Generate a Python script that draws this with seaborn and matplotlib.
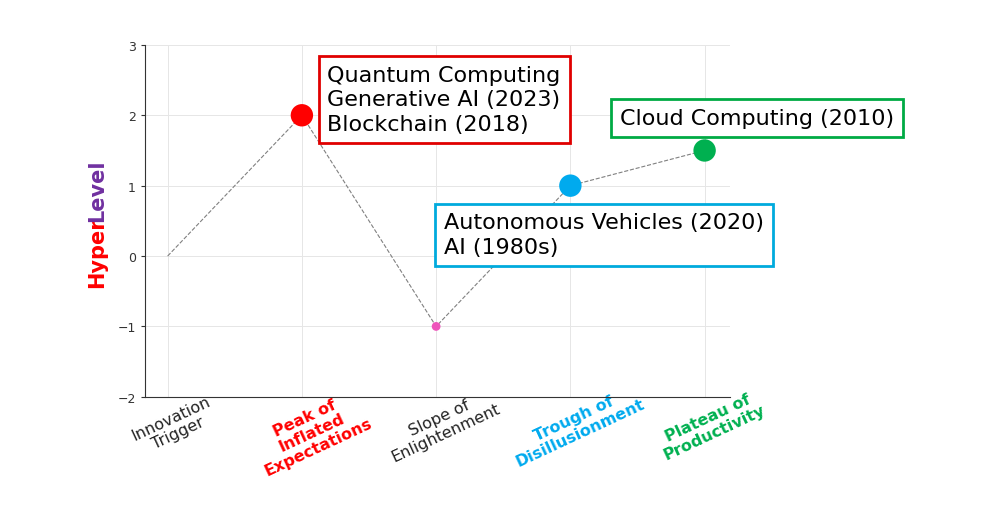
import matplotlib
matplotlib.use("Agg")
import matplotlib.pyplot as plt
import pandas as pd
import seaborn as sns

stages = ["Innovation\nTrigger", "Peak of\nInflated\nExpectations", "Slope of\nEnlightenment",
          "Trough of\nDisillusionment", "Plateau of\nProductivity"]
hype = [0, 2, -1, 1, 1.5]
marker_colors = [None, "#ff0000", "#ee55bb", "#00aaee", "#00b050"]
marker_sizes = [0, 260, 40, 260, 260]
label_colors = ["#222222", "#ff0000", "#222222", "#00aaee", "#00b050"]
label_bold = [False, True, False, True, True]

notes = [
    ("Quantum Computing\nGenerative AI (2023)\nBlockchain (2018)", 1.19, 2.72, "#e00000"),
    ("Autonomous Vehicles (2020)\nAI (1980s)", 2.06, 0.62, "#00aadd"),
    ("Cloud Computing (2010)", 3.37, 2.10, "#00aa44"),
]

plt.rcParams["font.family"] = "Noto Sans CJK KR"
df = pd.DataFrame({"x": range(len(hype)), "y": hype})

fig = plt.figure(figsize=(9.92, 5.1), dpi=100)
ax = fig.add_axes([0.146, 0.22, 0.59, 0.69])

sns.lineplot(data=df, x="x", y="y", ax=ax, color="gray", linestyle="--", linewidth=0.8)
for i in range(1, len(hype)):
    sns.scatterplot(x=[i], y=[hype[i]], ax=ax, color=marker_colors[i], s=marker_sizes[i],
                    edgecolor="none", zorder=5)

for txt, x, y, c in notes:
    ax.text(x, y, txt, fontsize=16, va="top", ha="left", linespacing=1.3,
            bbox=dict(boxstyle="square,pad=0.4", facecolor="white", edgecolor=c, linewidth=2),
            zorder=6)

ax.set_xlim(-0.17, 4.19)
ax.set_ylim(-2, 3)
ax.set_xticks(range(len(stages)))
ax.set_xticklabels(stages, rotation=25, fontsize=11.5, ha="center", va="top",
                   rotation_mode="anchor", linespacing=1.1)
for lbl, c, b in zip(ax.get_xticklabels(), label_colors, label_bold):
    lbl.set_color(c)
    if b:
        lbl.set_fontweight("bold")
ax.set_yticks([-2, -1, 0, 1, 2, 3])
ax.set_yticklabels(["\u22122", "\u22121", "0", "1", "2", "3"])
ax.tick_params(axis="y", labelsize=9, colors="#333333", length=3)
ax.tick_params(axis="x", length=0, pad=10)
ax.set_xlabel("")
ax.set_ylabel("")
ax.grid(True, color="#e6e6e6", linewidth=0.7)
for s in ["top", "right"]:
    ax.spines[s].set_visible(False)
for s in ["left", "bottom"]:
    ax.spines[s].set_color("#333333")

fig.text(0.098, 0.435, "Hyper", rotation=90, color="#ff0000", fontsize=15,
         fontweight="bold", ha="center", va="bottom")
fig.text(0.098, 0.565, "Level", rotation=90, color="#7030a0", fontsize=15,
         fontweight="bold", ha="center", va="bottom")

fig.savefig("out.png", dpi=100, facecolor="white")
